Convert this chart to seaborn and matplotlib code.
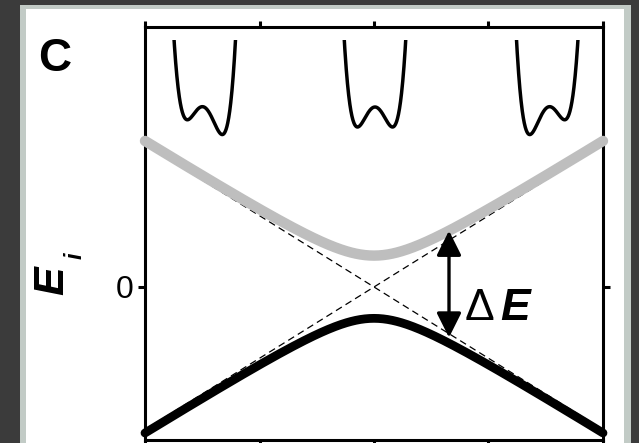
import numpy as np
import matplotlib
matplotlib.use("Agg")
import matplotlib.pyplot as plt
from matplotlib.patches import Rectangle, ArrowStyle
import seaborn as sns

# ---- model parameters -------------------------------------------------
field = np.linspace(-1.0, 1.0, 401)        # detuning / control parameter
slope = 1.0                                # slope of the diabatic states
coupling = 0.22                            # half of the minimum splitting
arrow_at = 0.3275                          # where the splitting is marked
well_tilts = [-0.37, 0.0, 0.37]            # asymmetry of the double wells
x_ticks = [-1.0, -0.5, 0.0, 0.5, 1.0]
y_ticks = [0.0]
y_ticklabels = ["0"]

upper = np.sqrt((slope * field) ** 2 + coupling ** 2)
lower = -upper
diab_up = slope * field
diab_down = -slope * field

# ---- figure setup -----------------------------------------------------
sns.set_theme(style="white")
plt.rcParams["font.family"] = ["Liberation Sans", "DejaVu Sans"]

W, H = 639, 443
fig = plt.figure(figsize=(W / 100, H / 100), dpi=100)
fig.patch.set_facecolor("#3b3b3b")


def fx(px):
    return px / W


def fy(py):
    return 1 - py / H


# light panel with a pale frame
fig.add_artist(Rectangle((fx(20), fy(460)), fx(631) - fx(20), fy(5) - fy(460),
                         transform=fig.transFigure, facecolor="#c2cbc6",
                         edgecolor="none", zorder=0))
fig.add_artist(Rectangle((fx(26), fy(460)), fx(624) - fx(26), fy(9) - fy(460),
                         transform=fig.transFigure, facecolor="white",
                         edgecolor="none", zorder=0))

ax_l, ax_r, ax_t, ax_b = 145, 603, 27, 440
ax = fig.add_axes([fx(ax_l), fy(ax_b), fx(ax_r) - fx(ax_l), fy(ax_t) - fy(ax_b)])
ax.set_facecolor("none")

# diabatic (crossing) states
sns.lineplot(x=field, y=diab_up, ax=ax, color="black", linewidth=0.9,
             linestyle=(0, (5.5, 3.5)), zorder=2, sort=False)
sns.lineplot(x=field, y=diab_down, ax=ax, color="black", linewidth=0.9,
             linestyle=(0, (5.5, 3.5)), zorder=2, sort=False)

# adiabatic branches
sns.lineplot(x=field, y=upper, ax=ax, color="#bebebe", linewidth=7.5,
             solid_capstyle="round", zorder=3, sort=False, clip_on=False)
sns.lineplot(x=field, y=lower, ax=ax, color="black", linewidth=6.3,
             solid_capstyle="round", zorder=4, sort=False, clip_on=False)

ax.set_xlim(-1.0, 1.0)
ax.set_ylim(-1.073, 1.823)

# splitting arrow
gap = np.sqrt((slope * arrow_at) ** 2 + coupling ** 2)
ax.annotate("", xy=(arrow_at, gap), xytext=(arrow_at, -gap + 0.04),
            arrowprops=dict(arrowstyle=ArrowStyle("<|-|>", head_length=1.5,
                                                  head_width=0.75),
                            mutation_scale=10, color="black", lw=2.4,
                            shrinkA=0, shrinkB=0), zorder=6)
ax.text(0.397, -0.231, "\u0394", fontsize=32, ha="left", va="baseline",
        color="black", zorder=6)
ax.text(0.552, -0.231, "E", fontsize=32, ha="left", va="baseline",
        fontweight="bold", fontstyle="italic", color="black", zorder=6)

# ticks and frame
ax.set_xticks(x_ticks)
ax.set_yticks(y_ticks)
ax.set_yticklabels(y_ticklabels, fontsize=23)
ax.tick_params(axis="x", which="both", direction="out", length=4, width=2.2,
               top=True, bottom=True, labelbottom=False, labeltop=False,
               color="black")
ax.tick_params(axis="y", which="both", direction="out", length=5, width=2.2,
               left=True, right=True, labelleft=True, labelright=False,
               color="black", pad=3, labelcolor="black")
for s in ax.spines.values():
    s.set_visible(True)
    s.set_color("black")
    s.set_linewidth(2.2)
ax.set_xlabel("")
ax.set_ylabel("")
ax.grid(False)

# axis label and panel letter
fig.text(fx(52), fy(281), "E", rotation=90, fontsize=31, fontweight="bold",
         fontstyle="italic", ha="center", va="center", color="black")
fig.text(fx(75), fy(256), "i", rotation=90, fontsize=17, fontweight="bold",
         fontstyle="italic", ha="center", va="center", color="black")
fig.text(fx(55), fy(59), "C", fontsize=33, fontweight="bold",
         ha="center", va="center", color="black")

# double-well potentials along the top
q = np.linspace(-2.3, 2.3, 400)
well_centers = [204, 375, 548]
for cx, tilt in zip(well_centers, well_tilts):
    wax = fig.add_axes([fx(cx - 38.5), fy(140), fx(77), fy(40) - fy(140)])
    pot = q ** 4 - 2 * q ** 2 + tilt * q
    sns.lineplot(x=q, y=pot, ax=wax, color="black", linewidth=2.5,
                 sort=False, solid_capstyle="round")
    wax.set_xlim(-2.2, 2.2)
    wax.set_ylim(-1.65, 3.35)
    wax.axis("off")
    wax.set_facecolor("none")

fig.savefig("out.png", dpi=100, facecolor=fig.get_facecolor())
